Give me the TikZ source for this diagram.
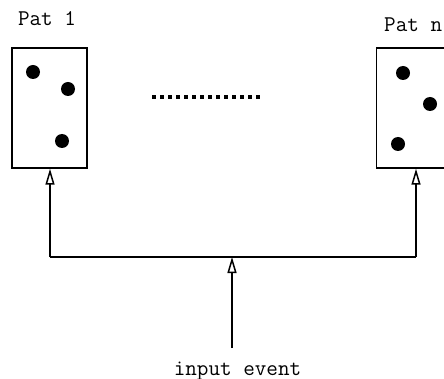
\documentclass[tikz,border=0pt]{standalone}
\usetikzlibrary{arrows.meta}
\begin{document}
\begin{tikzpicture}[x=1pt,y=-1pt,
  patbox/.style={draw,line width=1.5pt,minimum width=75pt,minimum height=120pt,inner sep=0pt},
  dotmark/.style={circle,fill=black,minimum size=14pt,inner sep=0pt},
  lbl/.style={font=\fontsize{22.5}{26}\ttfamily\selectfont,inner sep=0pt},
  conn/.style={line width=1.5pt},
  arr/.style={conn,-{Triangle[open,length=16pt,width=9pt,line width=1.5pt]}}]
\useasboundingbox (0,0) rectangle (444,379);
\node[patbox] (p1) at (49.5,108) {};
\node[patbox] (pn) at (414,108) {};
\node[lbl] (t1) at (47,19) {Pat 1};
\node[lbl,anchor=west] (tn) at (384,25) {Pat n};
\node[dotmark] (d1) at (33,72) {};
\node[dotmark] (d2) at (68,89) {};
\node[dotmark] (d3) at (62,141) {};
\node[dotmark] (d4) at (403,73) {};
\node[dotmark] (d5) at (430,104) {};
\node[dotmark] (d6) at (398,144) {};
\coordinate (ds) at (152,97);
\coordinate (de) at (262,97);
\draw[line width=3.5pt,dash pattern=on 4pt off 4pt] (ds) -- (de);
\coordinate (jl) at (50,257);
\coordinate (jr) at (416,257);
\coordinate (jm) at (232,257);
\coordinate (src) at (232,348);
\node[lbl,anchor=base] (ie) at (237.5,375) {input event};
\draw[conn] (jl) -- (jr);
\draw[arr] (jl) -- (jl |- p1.south);
\draw[arr] (jr) -- (jr |- pn.south);
\draw[arr] (src) -- (jm);
\end{tikzpicture}
\end{document}
